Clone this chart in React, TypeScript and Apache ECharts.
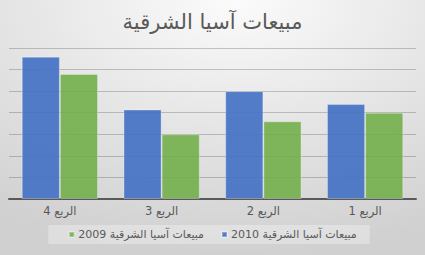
import React, { useEffect, useRef } from "react";
import * as echarts from "echarts";

const categories = ["الربع 4", "الربع 3", "الربع 2", "الربع 1"];
const sales2010 = [6.6, 4.15, 5.0, 4.4];
const sales2009 = [5.8, 3.0, 3.6, 4.0];
const name2010 = "مبيعات آسيا الشرقية 2010";
const name2009 = "مبيعات آسيا الشرقية 2009";
const titleText = "مبيعات آسيا الشرقية";

export default function App() {
  const ref = useRef<HTMLDivElement>(null);
  useEffect(() => {
    document.body.style.margin = "0";
    const chart = echarts.init(ref.current!, null, { renderer: "svg" });
    const font = "DejaVu Sans, sans-serif";
    chart.setOption({
      animation: false,
      backgroundColor: {
        type: "radial",
        x: 0.55,
        y: 0.0,
        r: 1.0,
        colorStops: [
          { offset: 0, color: "#fbfbfb" },
          { offset: 1, color: "#d0d0d0" },
        ],
      },
      title: {
        text: titleText,
        left: "center",
        top: 6,
        textStyle: { fontSize: 21, fontWeight: "normal", color: "#595959", fontFamily: font },
      },
      grid: { left: 9, right: 9, top: 48, bottom: 56, containLabel: false },
      xAxis: {
        type: "category",
        data: categories,
        axisLine: { lineStyle: { color: "#595959", width: 2 } },
        axisTick: { show: false },
        axisLabel: { color: "#595959", fontSize: 11.5, margin: 6, fontFamily: font },
      },
      yAxis: {
        type: "value",
        min: 0,
        max: 7,
        interval: 1,
        axisLabel: { show: false },
        axisLine: { show: false },
        axisTick: { show: false },
        splitLine: { lineStyle: { color: "rgba(0,0,0,0.2)", width: 1 } },
      },
      legend: {
        data: [name2009, name2010],
        left: "center",
        top: 225,
        itemWidth: 5,
        itemHeight: 5,
        itemGap: 17,
        padding: [4, 13, 4, 20],
        backgroundColor: "rgba(255,255,255,0.3)",
        icon: "rect",
        textStyle: { color: "#595959", fontSize: 11, fontFamily: font, padding: [0, 0, 0, -1] },
      },
      series: [
        {
          name: name2010,
          type: "bar",
          data: sales2010,
          barGap: "0%",
          barCategoryGap: "25%",
          itemStyle: { color: "#4472C4", opacity: 0.92, borderColor: "rgba(255,255,255,0.35)", borderWidth: 1 },
        },
        {
          name: name2009,
          type: "bar",
          data: sales2009,
          itemStyle: { color: "#70AD47", opacity: 0.88, borderColor: "rgba(255,255,255,0.35)", borderWidth: 1 },
        },
      ],
    });
    return () => chart.dispose();
  }, []);
  return <div ref={ref} style={{ width: 425, height: 255 }} />;
}
